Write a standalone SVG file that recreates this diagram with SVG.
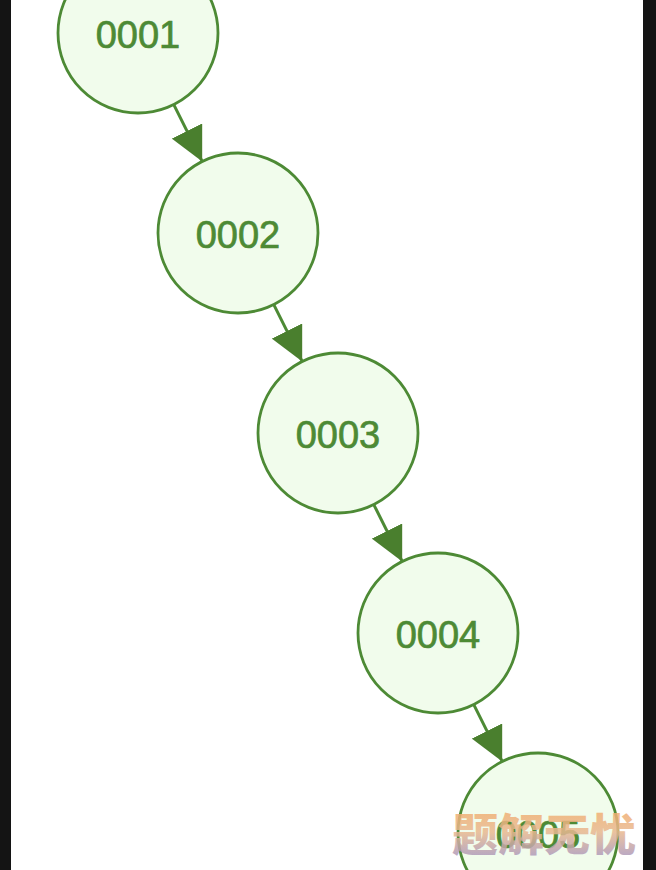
<svg xmlns="http://www.w3.org/2000/svg" width="656" height="870" viewBox="0 0 656 870">
<style>
.node circle{fill:#f1fcec;stroke:#4d8a35;stroke-width:2.8}
.node text{font-family:"Liberation Sans",Arial,sans-serif;font-size:38px;fill:#4d8a35;stroke:#4d8a35;stroke-width:0.7;text-anchor:middle;dominant-baseline:central}
.edge{stroke:#4d8a35;stroke-width:3;fill:none}
.wm{font-family:"Noto Sans CJK SC",sans-serif;font-size:44px;font-weight:900}
</style>
<defs>
<marker id="arrow" viewBox="0 0 34 34" refX="34" refY="17" markerWidth="34" markerHeight="34" markerUnits="userSpaceOnUse" orient="auto">
<path d="M0,0 L34,17 L0,34 Z" fill="#4a7f2e"/>
</marker>
<linearGradient id="wmg" x1="0" y1="0" x2="0" y2="1">
<stop offset="0" stop-color="#f5a860"/>
<stop offset="0.5" stop-color="#e8b890"/>
<stop offset="1" stop-color="#9a8fc8"/>
</linearGradient>
</defs>
<rect x="0" y="0" width="656" height="870" fill="#ffffff"/>
<rect x="0" y="0" width="11" height="870" fill="#141414"/>
<rect x="643" y="0" width="13" height="870" fill="#141414"/>
<g id="connectors">
<line class="edge" x1="173.8" y1="104.6" x2="202.2" y2="161.4" marker-end="url(#arrow)"/>
<line class="edge" x1="273.8" y1="304.6" x2="302.2" y2="361.4" marker-end="url(#arrow)"/>
<line class="edge" x1="373.8" y1="504.6" x2="402.2" y2="561.4" marker-end="url(#arrow)"/>
<line class="edge" x1="473.8" y1="704.6" x2="502.2" y2="761.4" marker-end="url(#arrow)"/>
</g>
<g id="n1" class="node"><circle cx="138" cy="33" r="80"/><text x="138" y="35">0001</text></g>
<g id="n2" class="node"><circle cx="238" cy="233" r="80"/><text x="238" y="235">0002</text></g>
<g id="n3" class="node"><circle cx="338" cy="433" r="80"/><text x="338" y="435">0003</text></g>
<g id="n4" class="node"><circle cx="438" cy="633" r="80"/><text x="438" y="635">0004</text></g>
<g id="n5" class="node"><circle cx="538" cy="833" r="80"/><text x="538" y="835">0005</text></g>
<text class="wm" x="544" y="851" text-anchor="middle" fill="url(#wmg)" fill-opacity="0.85" textLength="184" lengthAdjust="spacingAndGlyphs">题解无忧</text>
</svg>
